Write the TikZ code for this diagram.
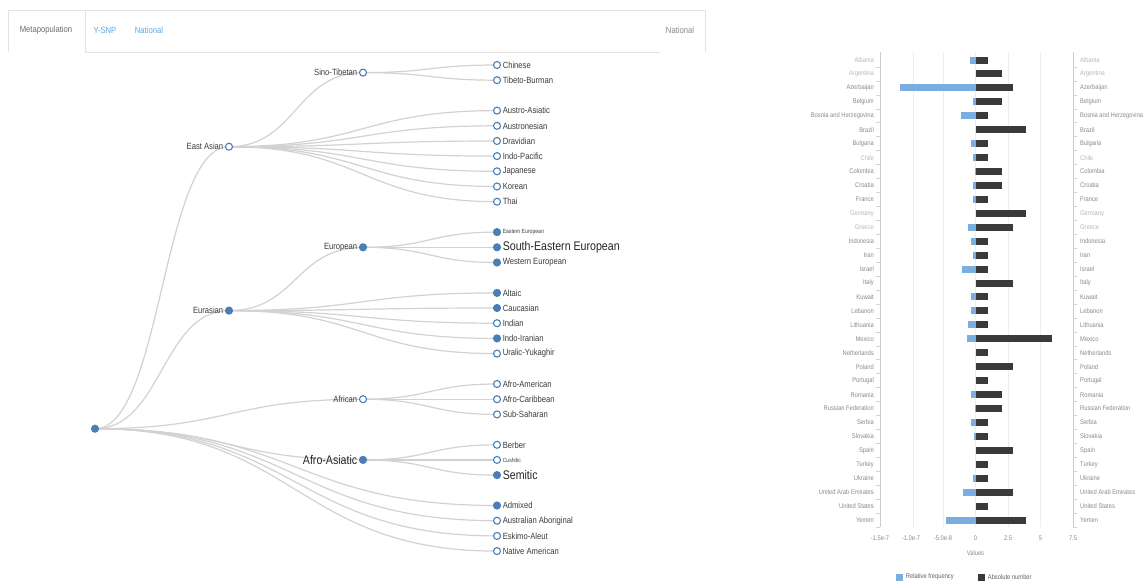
\documentclass[tikz,border=0pt]{standalone}
\usepackage{fontspec}
\setmainfont{Liberation Sans}
\newfontfamily\nf[FakeStretch=0.85]{Liberation Sans}
\usetikzlibrary{calc}
\pgfdeclarelayer{bg}\pgfsetlayers{bg,main}
\definecolor{nodeblue}{HTML}{4A7FB5}
\definecolor{linkgrey}{HTML}{D2D2D2}
\definecolor{txt}{HTML}{3C3C3C}
\definecolor{barblue}{HTML}{7AAEE0}
\definecolor{bardark}{HTML}{3A3A3A}
\definecolor{axisgrey}{HTML}{8A8A8A}
\definecolor{lightgrey}{HTML}{B8B8B8}
\definecolor{gridgrey}{HTML}{EDEDED}
\definecolor{tabblue}{HTML}{5AA9E6}
\definecolor{tabline}{HTML}{E3E3E3}
\newcommand\lnk[2]{\draw[link] let \p1=(#1.center), \p2=(#2.center) in (\p1) .. controls ({(\x1+\x2)/2},\y1) and ({(\x1+\x2)/2},\y2) .. (\p2);}
\begin{document}
\begin{tikzpicture}[x=1pt,y=-1pt,
 tnode/.style={circle,draw=nodeblue,line width=1.1pt,minimum size=7pt,inner sep=0pt,fill=white},
 full/.style={tnode,fill=nodeblue},
 lbl/.style={font=\nf\fontsize{9}{9}\selectfont,text=txt,inner sep=0.5pt,label distance=1pt},
 big/.style={font=\nf\fontsize{12.5}{12.5}\selectfont,text=black!85,inner sep=0.5pt,label distance=1pt},
 tiny/.style={font=\nf\fontsize{6}{6}\selectfont,text=txt,inner sep=0.5pt,label distance=1pt},
 link/.style={draw=linkgrey,line width=1.2pt},
 nm/.style={font=\nf\fontsize{6.8}{6.8}\selectfont,text=axisgrey,inner sep=0pt},
 lt/.style={font=\nf\fontsize{6.8}{6.8}\selectfont,text=lightgrey,inner sep=0pt},
 tab/.style={font=\nf\fontsize{9}{9}\selectfont,inner sep=0pt}]
\useasboundingbox (0,0) rectangle (1147,582);
% tabs
\draw[tabline,line width=0.8pt] (8,52) -- (8,10) -- (85,10) -- (85,52) -- (660,52);
\draw[tabline,line width=0.8pt] (85,10) -- (705,10) -- (705,52);
\node[tab,text=axisgrey!80!black] (t1) at (46,30) {Metapopulation};
\node[tab,text=tabblue] (t2) at (105,30) {Y-SNP};
\node[tab,text=tabblue] (t3) at (149,30) {National};
\node[tab,text=axisgrey] (t4) at (680,30) {National};
% tree nodes
\node[full] (root) at (95,428.7) {};
\node[tnode,label={[lbl]left:East Asian}] (ea) at (229,146.7) {};
\node[full,label={[lbl]left:Eurasian}] (eu) at (229,310.6) {};
\node[tnode,label={[lbl]left:Sino-Tibetan}] (st) at (363,72.6) {};
\node[full,label={[lbl]left:European}] (eur) at (363,247.3) {};
\node[tnode,label={[lbl]left:African}] (af) at (363,399.2) {};
\node[full,label={[big]left:Afro-Asiatic}] (aa) at (363,459.9) {};
\node[tnode,label={[lbl]right:Chinese}] (l1) at (497,65.0) {};
\node[tnode,label={[lbl]right:Tibeto-Burman}] (l2) at (497,80.2) {};
\node[tnode,label={[lbl]right:Austro-Asiatic}] (l3) at (497,110.6) {};
\node[tnode,label={[lbl]right:Austronesian}] (l4) at (497,125.8) {};
\node[tnode,label={[lbl]right:Dravidian}] (l5) at (497,141.0) {};
\node[tnode,label={[lbl]right:Indo-Pacific}] (l6) at (497,156.1) {};
\node[tnode,label={[lbl]right:Japanese}] (l7) at (497,171.3) {};
\node[tnode,label={[lbl]right:Korean}] (l8) at (497,186.5) {};
\node[tnode,label={[lbl]right:Thai}] (l9) at (497,201.7) {};
\node[full,label={[tiny]right:Eastern European}] (l10) at (497,232.1) {};
\node[full,label={[big]right:South-Eastern European}] (l11) at (497,247.3) {};
\node[full,label={[lbl]right:Western European}] (l12) at (497,262.5) {};
\node[full,label={[lbl]right:Altaic}] (l13) at (497,292.9) {};
\node[full,label={[lbl]right:Caucasian}] (l14) at (497,308.0) {};
\node[tnode,label={[lbl]right:Indian}] (l15) at (497,323.2) {};
\node[full,label={[lbl]right:Indo-Iranian}] (l16) at (497,338.4) {};
\node[tnode,label={[lbl]right:Uralic-Yukaghir}] (l17) at (497,353.6) {};
\node[tnode,label={[lbl]right:Afro-American}] (l18) at (497,384.0) {};
\node[tnode,label={[lbl]right:Afro-Caribbean}] (l19) at (497,399.2) {};
\node[tnode,label={[lbl]right:Sub-Saharan}] (l20) at (497,414.4) {};
\node[tnode,label={[lbl]right:Berber}] (l21) at (497,444.8) {};
\node[tnode,label={[tiny]right:Cushitic}] (l22) at (497,459.9) {};
\node[full,label={[big]right:Semitic}] (l23) at (497,475.1) {};
\node[full,label={[lbl]right:Admixed}] (l24) at (497,505.5) {};
\node[tnode,label={[lbl]right:Australian Aboriginal}] (l25) at (497,520.7) {};
\node[tnode,label={[lbl]right:Eskimo-Aleut}] (l26) at (497,535.9) {};
\node[tnode,label={[lbl]right:Native American}] (l27) at (497,551.1) {};
\begin{pgfonlayer}{bg}
\fill[white] (0,0) rectangle (1147,582);
\lnk{root}{ea}\lnk{root}{eu}\lnk{root}{af}\lnk{root}{aa}
\lnk{root}{l24}\lnk{root}{l25}\lnk{root}{l26}\lnk{root}{l27}
\lnk{ea}{st}
\foreach \k in {3,...,9} {\lnk{ea}{l\k}}
\lnk{st}{l1}\lnk{st}{l2}
\lnk{eu}{eur}
\foreach \k in {13,...,17} {\lnk{eu}{l\k}}
\foreach \k in {10,11,12} {\lnk{eur}{l\k}}
\foreach \k in {18,19,20} {\lnk{af}{l\k}}
\foreach \k in {21,22,23} {\lnk{aa}{l\k}}
\end{pgfonlayer}
% bar chart grid
\foreach \gx in {913,943,975.5,1008,1040.5} {\draw[gridgrey,line width=0.8pt] (\gx,52) -- (\gx,527);}
\draw[gridgrey!70!gray,line width=0.6pt] (880,52) -- (880,527);
\draw[gridgrey!70!gray,line width=0.6pt] (1073,52) -- (1073,527);
\foreach [count=\i from 0] \nmx/\bl/\dk/\cl in {Albania/970/988/lt,Argentina/975.5/1002/lt,Azerbaijan/900/1013/nm,Belgium/973/1002/nm,Bosnia and Herzegovina/961/988/nm,Brazil/975.5/1026/nm,Bulgaria/971/988/nm,Chile/973/988/lt,Colombia/974.5/1002/nm,Croatia/973/1002/nm,France/973/988/nm,Germany/975.5/1026/lt,Greece/968/1013/lt,Indonesia/971/988/nm,Iran/973/988/nm,Israel/962/988/nm,Italy/975.5/1013/nm,Kuwait/971/988/nm,Lebanon/971/988/nm,Lithuania/968/988/nm,Mexico/967/1052/nm,Netherlands/975.5/988/nm,Poland/975.5/1013/nm,Portugal/975.5/988/nm,Romania/971/1002/nm,Russian Federation/974.5/1002/nm,Serbia/971/988/nm,Slovakia/974/988/nm,Spain/975.5/1013/nm,Turkey/975.5/988/nm,Ukraine/973/988/nm,United Arab Emirates/963/1013/nm,United States/975.5/988/nm,Yemen/946/1026/nm} {
  \pgfmathsetmacro\yy{60+\i*13.94}
  \node[\cl,anchor=east] (L\i) at (874,\yy) {\nmx};
  \node[\cl,anchor=west] (R\i) at (1080,\yy) {\nmx};
  \fill[barblue] (\bl,\yy-3.5) rectangle (975.5,\yy+3.5);
  \fill[bardark] (975.5,\yy-3.5) rectangle (\dk,\yy+3.5);
  \draw[lightgrey!60,line width=0.6pt] (876,\yy+7) -- (880,\yy+7);
  \draw[lightgrey!60,line width=0.6pt] (1073,\yy+7) -- (1077,\yy+7);
}
% axis labels
\foreach \gx/\tx [count=\j] in {880/-1.5e-7,911/-1.0e-7,943/-5.0e-8,975.5/0,1008/2.5,1040.5/5,1073/7.5} {\node[nm] (ax\j) at (\gx,538) {\tx};}
\node[nm] (vals) at (975.5,553) {Values};
\node[fill=barblue,minimum size=7pt,inner sep=0pt] (lgb) at (899,577) {};
\node[nm,anchor=west,text=axisgrey!70!black] (lgbt) at ([xshift=3pt]lgb.east) {Relative frequency};
\node[fill=bardark,minimum size=7pt,inner sep=0pt] (lgd) at (981,577) {};
\node[nm,anchor=west,text=axisgrey!70!black] (lgdt) at ([xshift=3pt]lgd.east) {Absolute number};
\end{tikzpicture}
\end{document}
